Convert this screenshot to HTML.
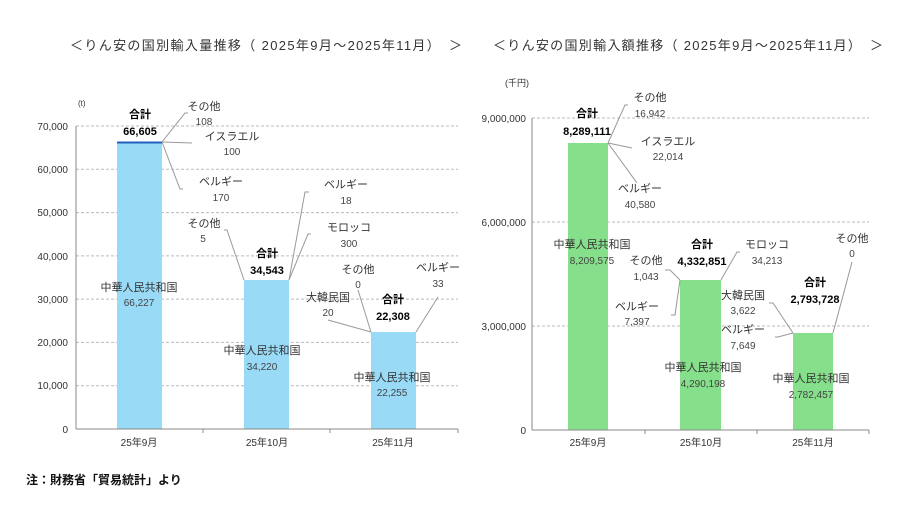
<!DOCTYPE html>
<html><head><meta charset="utf-8"><style>
body{margin:0;background:#fff;}
svg text{font-family:"Liberation Sans","Noto Sans CJK JP",sans-serif;fill:#333;}
.l{font-size:11px;text-anchor:middle;}
.n{font-size:10px;text-anchor:middle;fill:#444;}
.b{font-size:11px;font-weight:bold;text-anchor:middle;fill:#000;}
.t{font-size:10px;text-anchor:end;fill:#333;}
.x{font-size:10px;text-anchor:middle;}
.g{stroke:#bbb;stroke-dasharray:3,2;stroke-width:1;}
.ld{stroke:#999;stroke-width:1;fill:none;}
</style></head><body>
<svg width="900" height="506" xmlns="http://www.w3.org/2000/svg">
<text x="70" y="50" textLength="392" lengthAdjust="spacing" style="font-size:13px;fill:#333">＜りん安の国別輸入量推移（ 2025年9月～2025年11月）　＞</text>
<text x="493" y="50" textLength="390" lengthAdjust="spacing" style="font-size:13px;fill:#333">＜りん安の国別輸入額推移（ 2025年9月～2025年11月）　＞</text>

<!-- LEFT -->
<text x="78" y="106" style="font-size:8px;fill:#333">(t)</text>
<g>
<line class="g" x1="76" y1="126" x2="458" y2="126"/>
<line class="g" x1="76" y1="169.3" x2="458" y2="169.3"/>
<line class="g" x1="76" y1="212.6" x2="458" y2="212.6"/>
<line class="g" x1="76" y1="255.9" x2="458" y2="255.9"/>
<line class="g" x1="76" y1="299.1" x2="458" y2="299.1"/>
<line class="g" x1="76" y1="342.4" x2="458" y2="342.4"/>
<line class="g" x1="76" y1="385.7" x2="458" y2="385.7"/>
</g>
<text class="t" x="68" y="130">70,000</text>
<text class="t" x="68" y="173">60,000</text>
<text class="t" x="68" y="216">50,000</text>
<text class="t" x="68" y="260">40,000</text>
<text class="t" x="68" y="303">30,000</text>
<text class="t" x="68" y="346">20,000</text>
<text class="t" x="68" y="389">10,000</text>
<text class="t" x="68" y="433">0</text>
<rect x="117" y="142" width="45" height="287" fill="#99daf6"/>
<rect x="117" y="141.5" width="45" height="2" fill="#1f5fc0"/>
<rect x="244" y="280" width="45" height="149" fill="#99daf6"/>
<rect x="371" y="332" width="45" height="97" fill="#99daf6"/>
<line x1="76" y1="126" x2="76" y2="429" stroke="#888"/>
<line x1="76" y1="429" x2="458" y2="429" stroke="#888"/>
<line x1="203" y1="429" x2="203" y2="433" stroke="#888"/>
<line x1="330" y1="429" x2="330" y2="433" stroke="#888"/>
<line x1="458" y1="429" x2="458" y2="433" stroke="#888"/>
<text class="x" x="139" y="446">25年9月</text>
<text class="x" x="267" y="446">25年10月</text>
<text class="x" x="393" y="446">25年11月</text>
<polyline class="ld" points="162,142 185,113 188,113"/>
<line class="ld" x1="162" y1="142" x2="192" y2="143"/>
<polyline class="ld" points="162,142 180,189 183,189"/>
<polyline class="ld" points="244,280 227,230 224,230"/>
<polyline class="ld" points="289,280 305,192 309,192"/>
<polyline class="ld" points="289,280 308,234 311,234"/>
<polyline class="ld" points="371,332 328,320"/>
<polyline class="ld" points="371,332 358,290"/>
<polyline class="ld" points="416,332 438,297"/>
<text class="b" x="140" y="118">合計</text><text class="b" x="140" y="135">66,605</text>
<text class="l" x="204" y="110">その他</text><text class="n" x="204" y="125">108</text>
<text class="l" x="232" y="140">イスラエル</text><text class="n" x="232" y="155">100</text>
<text class="l" x="221" y="185">ベルギー</text><text class="n" x="221" y="201">170</text>
<text class="l" x="139" y="291">中華人民共和国</text><text class="n" x="139" y="306">66,227</text>
<text class="l" x="204" y="227">その他</text><text class="n" x="203" y="242">5</text>
<text class="b" x="267" y="257">合計</text><text class="b" x="267" y="274">34,543</text>
<text class="l" x="346" y="188">ベルギー</text><text class="n" x="346" y="204">18</text>
<text class="l" x="349" y="231">モロッコ</text><text class="n" x="349" y="247">300</text>
<text class="l" x="262" y="354">中華人民共和国</text><text class="n" x="262" y="370">34,220</text>
<text class="l" x="358" y="273">その他</text><text class="n" x="358" y="288">0</text>
<text class="l" x="438" y="271">ベルギー</text><text class="n" x="438" y="287">33</text>
<text class="l" x="328" y="301">大韓民国</text><text class="n" x="328" y="316">20</text>
<text class="b" x="393" y="303">合計</text><text class="b" x="393" y="320">22,308</text>
<text class="l" x="392" y="381">中華人民共和国</text><text class="n" x="392" y="396">22,255</text>

<!-- RIGHT -->
<text x="517" y="86" style="font-size:9px;fill:#333;text-anchor:middle">(千円)</text>
<line class="g" x1="532" y1="118" x2="869" y2="118"/>
<line class="g" x1="532" y1="222" x2="869" y2="222"/>
<line class="g" x1="532" y1="326" x2="869" y2="326"/>
<text class="t" x="526" y="122">9,000,000</text>
<text class="t" x="526" y="226">6,000,000</text>
<text class="t" x="526" y="330">3,000,000</text>
<text class="t" x="526" y="434">0</text>
<rect x="568" y="143" width="40" height="287" fill="#86df8a"/>
<rect x="680" y="280" width="41" height="150" fill="#86df8a"/>
<rect x="793" y="333" width="40" height="97" fill="#86df8a"/>
<line x1="532" y1="118" x2="532" y2="430" stroke="#888"/>
<line x1="532" y1="430" x2="869" y2="430" stroke="#888"/>
<line x1="645" y1="430" x2="645" y2="434" stroke="#888"/>
<line x1="757" y1="430" x2="757" y2="434" stroke="#888"/>
<line x1="869" y1="430" x2="869" y2="434" stroke="#888"/>
<text class="x" x="588" y="446">25年9月</text>
<text class="x" x="701" y="446">25年10月</text>
<text class="x" x="813" y="446">25年11月</text>
<polyline class="ld" points="608,143 625,105 628,105"/>
<line class="ld" x1="608" y1="143" x2="632" y2="148"/>
<line class="ld" x1="608" y1="143" x2="637" y2="183"/>
<polyline class="ld" points="680,280 670,270 665,270"/>
<polyline class="ld" points="680,280 675,315 671,315"/>
<polyline class="ld" points="721,280 737,252 740,252"/>
<polyline class="ld" points="793,333 773,303 769,303"/>
<polyline class="ld" points="793,333 778,337 775,337"/>
<polyline class="ld" points="833,333 852,262"/>
<text class="b" x="587" y="117">合計</text><text class="b" x="587" y="135">8,289,111</text>
<text class="l" x="650" y="101">その他</text><text class="n" x="650" y="117">16,942</text>
<text class="l" x="668" y="145">イスラエル</text><text class="n" x="668" y="160">22,014</text>
<text class="l" x="640" y="192">ベルギー</text><text class="n" x="640" y="208">40,580</text>
<text class="l" x="592" y="248">中華人民共和国</text><text class="n" x="592" y="264">8,209,575</text>
<text class="l" x="646" y="264">その他</text><text class="n" x="646" y="280">1,043</text>
<text class="b" x="702" y="248">合計</text><text class="b" x="702" y="265">4,332,851</text>
<text class="l" x="767" y="248">モロッコ</text><text class="n" x="767" y="264">34,213</text>
<text class="l" x="637" y="310">ベルギー</text><text class="n" x="637" y="325">7,397</text>
<text class="l" x="703" y="371">中華人民共和国</text><text class="n" x="703" y="387">4,290,198</text>
<text class="l" x="743" y="299">大韓民国</text><text class="n" x="743" y="314">3,622</text>
<text class="l" x="743" y="333">ベルギー</text><text class="n" x="743" y="349">7,649</text>
<text class="b" x="815" y="286">合計</text><text class="b" x="815" y="303">2,793,728</text>
<text class="l" x="852" y="242">その他</text><text class="n" x="852" y="257">0</text>
<text class="l" x="811" y="382">中華人民共和国</text><text class="n" x="811" y="398">2,782,457</text>

<text x="26" y="484" style="font-size:12px;font-weight:bold;fill:#111">注：財務省「貿易統計」より</text>
</svg>
</body></html>
